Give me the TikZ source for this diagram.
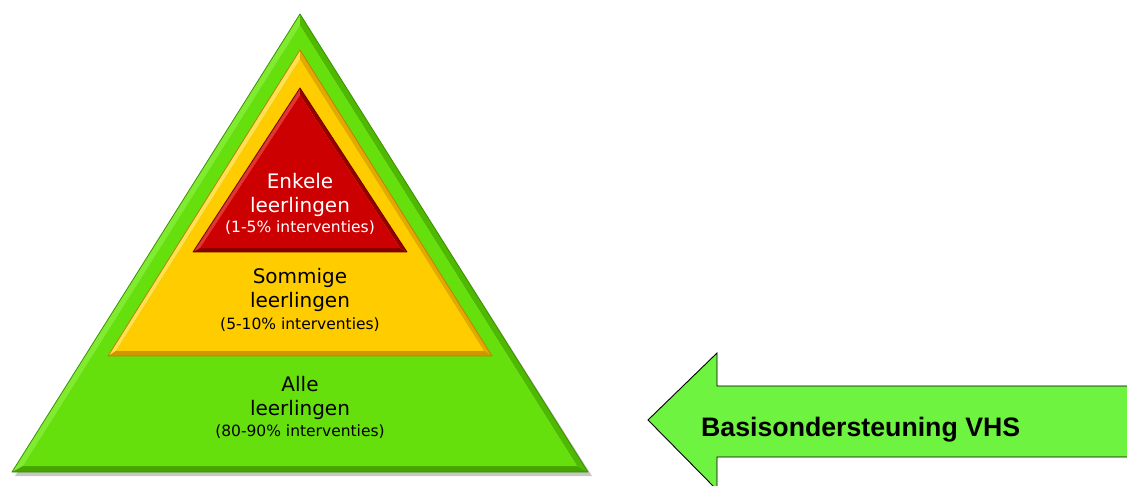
\documentclass[tikz,border=0pt]{standalone}
\usepackage{fontspec}
\setmainfont{DejaVu Sans}
\newfontfamily\arrowfont{Liberation Sans}
\definecolor{gMain}{HTML}{66E00C}
\definecolor{gLeft}{HTML}{80EC30}
\definecolor{gRight}{HTML}{4FB800}
\definecolor{gBot}{HTML}{46A400}
\definecolor{gLine}{HTML}{3C9000}
\definecolor{yMain}{HTML}{FFCC00}
\definecolor{yLeft}{HTML}{FFE052}
\definecolor{yRight}{HTML}{E5A800}
\definecolor{yBot}{HTML}{D29400}
\definecolor{yLine}{HTML}{B88400}
\definecolor{rMain}{HTML}{CC0000}
\definecolor{rLeft}{HTML}{E23434}
\definecolor{rRight}{HTML}{980000}
\definecolor{rBot}{HTML}{860000}
\definecolor{rLine}{HTML}{700000}
\definecolor{aFill}{RGB}{110,243,64}
\tikzset{
  big/.style={font=\fontsize{20bp}{24bp}\selectfont, inner sep=0pt, anchor=base},
  small/.style={font=\fontsize{15.5bp}{18bp}\selectfont, inner sep=0pt, anchor=base},
  arrowshape/.style={fill=aFill, draw=black, line width=0.9bp, line join=miter},
}
\begin{document}
\begin{tikzpicture}[x=1bp,y=-1bp,line join=round]
\useasboundingbox (0,0) rectangle (1127,486);
\clip (0,0) rectangle (1127,486);
% shadow
\fill[black!22] (302,18) -- (15,476) -- (592,476) -- cycle;
% green layer
\coordinate (GA) at (300,14); \coordinate (GB) at (12,472); \coordinate (GC) at (588,472);
\coordinate (Ga) at (300,25.4); \coordinate (Gb) at (23,466); \coordinate (Gc) at (577,466);
\fill[gLeft] (GA) -- (GB) -- (Gb) -- (Ga) -- cycle;
\fill[gRight] (GA) -- (Ga) -- (Gc) -- (GC) -- cycle;
\fill[gBot] (GB) -- (GC) -- (Gc) -- (Gb) -- cycle;
\fill[gMain] (Ga) -- (Gb) -- (Gc) -- cycle;
\draw[gLine, line width=0.8bp] (GA) -- (GB) -- (GC) -- cycle;
% yellow layer
\coordinate (YA) at (300,50); \coordinate (YB) at (108,356); \coordinate (YC) at (492,356);
\coordinate (Ya) at (300,59.4); \coordinate (Yb) at (116,351); \coordinate (Yc) at (484,351);
\fill[yLeft] (YA) -- (YB) -- (Yb) -- (Ya) -- cycle;
\fill[yRight] (YA) -- (Ya) -- (Yc) -- (YC) -- cycle;
\fill[yBot] (YB) -- (YC) -- (Yc) -- (Yb) -- cycle;
\fill[yMain] (Ya) -- (Yb) -- (Yc) -- cycle;
\draw[yLine, line width=0.8bp] (YA) -- (YB) -- (YC) -- cycle;
% red layer
\coordinate (RA) at (300,88); \coordinate (RB) at (193,252); \coordinate (RC) at (407,252);
\coordinate (Ra) at (300,95.3); \coordinate (Rb) at (200,248); \coordinate (Rc) at (400,248);
\fill[rLeft] (RA) -- (RB) -- (Rb) -- (Ra) -- cycle;
\fill[rRight] (RA) -- (Ra) -- (Rc) -- (RC) -- cycle;
\fill[rBot] (RB) -- (RC) -- (Rc) -- (Rb) -- cycle;
\fill[rMain] (Ra) -- (Rb) -- (Rc) -- cycle;
\draw[rLine, line width=0.8bp] (RA) -- (RB) -- (RC) -- cycle;
% texts
\node[big, white] (r1) at (300,189) {Enkele};
\node[big, white] (r2) at (300,213) {leerlingen};
\node[small, white] (r3) at (300,233) {(1-5\% interventies)};
\node[big] (y1) at (300,284) {Sommige};
\node[big] (y2) at (300,308) {leerlingen};
\node[small] (y3) at (300,330) {(5-10\% interventies)};
\node[big] (g1) at (300,391) {Alle};
\node[big] (g2) at (300,415) {leerlingen};
\node[small] (g3) at (300,436) {(80-90\% interventies)};
% arrow
\draw[arrowshape] (648,420) -- (717,353) -- (717,386) -- (1135,386) -- (1135,457) -- (717,457) -- (717,490) -- cycle;
\node[anchor=base west, inner sep=0pt, font=\arrowfont\bfseries\fontsize{26.7bp}{30bp}\selectfont] (lbl) at (701,436) {Basisondersteuning VHS};
\end{tikzpicture}
\end{document}
